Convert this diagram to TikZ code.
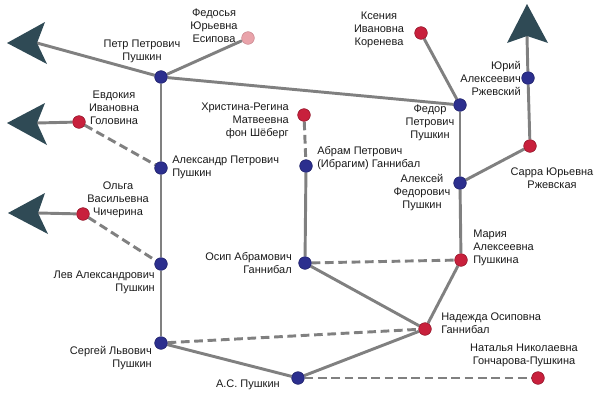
\documentclass[tikz,border=0pt]{standalone}
\usepackage{fontspec}
\setmainfont{Liberation Sans}
\usetikzlibrary{backgrounds}
\definecolor{blueN}{HTML}{2C2F8E}
\definecolor{blueD}{HTML}{1E2066}
\definecolor{redN}{HTML}{C8203C}
\definecolor{redD}{HTML}{8E1428}
\definecolor{pinkN}{HTML}{E9A3AA}
\definecolor{pinkD}{HTML}{C98890}
\definecolor{lineG}{HTML}{808080}
\definecolor{arrowC}{HTML}{2F4A55}
\definecolor{textC}{HTML}{1A1A1A}
\begin{document}
\begin{tikzpicture}[x=0.75pt,y=-0.75pt,
  person/.style={circle,inner sep=0pt,minimum size=9.5pt,line width=0.4pt},
  male/.style={person,fill=blueN,draw=blueD},
  female/.style={person,fill=redN,draw=redD},
  palefemale/.style={person,fill=pinkN,draw=pinkD},
  lbl/.style={inner sep=0pt,font=\fontsize{8.25pt}{9.75pt}\selectfont,text=textC},
  tie/.style={draw=lineG,line width=2.2pt},
  marr/.style={tie,dash pattern=on 6.5pt off 3.5pt},
  arrowhead/.style={fill=arrowC,draw=none}]
\useasboundingbox (0,0) rectangle (600,400);

% people
\node[male] (petr) at (161,77) {};
\node[palefemale] (fedosya) at (248,38) {};
\node[female] (evdokiya) at (79,122) {};
\node[male] (aleksandr) at (161,168) {};
\node[female] (olga) at (83,214) {};
\node[male] (lev) at (161,264) {};
\node[male] (sergey) at (161,343) {};
\node[male] (as) at (298,378) {};
\node[female] (hristina) at (304,115) {};
\node[male] (abram) at (306,166) {};
\node[male] (osip) at (305,263) {};
\node[female] (kseniya) at (421,33) {};
\node[male] (fedor) at (460,105) {};
\node[male] (yuriy) at (528,78) {};
\node[female] (sarra) at (530,146) {};
\node[male] (aleksey) at (460,183) {};
\node[female] (mariya) at (461,260) {};
\node[female] (nadezhda) at (425,329) {};
\node[female] (natalya) at (538,378) {};

% arrow heads (continuation of lines)
\coordinate (n1) at (37,43);
\coordinate (n2) at (37,123);
\coordinate (n3) at (38,213);
\coordinate (n4) at (527,36);

\begin{scope}[on background layer]
  \draw[tie] (petr) -- (n1);
  \draw[tie] (petr) -- (fedosya);
  \draw[tie] (petr) -- (fedor);
  \draw[tie] (petr) -- (aleksandr);
  \draw[tie] (aleksandr) -- (lev);
  \draw[tie] (lev) -- (sergey);
  \draw[tie] (sergey) -- (as);
  \draw[tie] (as) -- (nadezhda);
  \draw[tie] (osip) -- (nadezhda);
  \draw[tie] (nadezhda) -- (mariya);
  \draw[tie] (mariya) -- (aleksey);
  \draw[tie] (aleksey) -- (fedor);
  \draw[tie] (fedor) -- (kseniya);
  \draw[tie] (aleksey) -- (sarra);
  \draw[tie] (sarra) -- (yuriy);
  \draw[tie] (yuriy) -- (n4);
  \draw[tie] (abram) -- (osip);
  \draw[tie] (evdokiya) -- (n2);
  \draw[tie] (olga) -- (n3);
  \draw[marr] (evdokiya) -- (aleksandr);
  \draw[marr] (olga) -- (lev);
  \draw[marr] (hristina) -- (abram);
  \draw[marr] (osip) -- (mariya);
  \draw[marr] (sergey) -- (nadezhda);
  \draw[marr] (as) -- (natalya);
  \fill[arrowhead] (7,43) -- (45,22) -- (n1) -- (47,64) -- cycle;
  \fill[arrowhead] (7,123) -- (45,103) -- (n2) -- (47,145) -- cycle;
  \fill[arrowhead] (8,213) -- (45,193) -- (n3) -- (48,234) -- cycle;
  \fill[arrowhead] (527,4) -- (548,43) -- (n4) -- (507,43) -- cycle;
\end{scope}

% labels
\node[lbl,align=center] (lpetr) at (142,51.5) {Петр Петрович\\Пушкин};
\node[lbl,align=center] (lfedosya) at (214,25.5) {Федосья\\Юрьевна\\Есипова};
\node[lbl,align=center] (levdokiya) at (114,107.5) {Евдокия\\Ивановна\\Головина};
\node[lbl,align=left,anchor=west] (laleksandr) at (172,167.5) {Александр Петрович\\Пушкин};
\node[lbl,align=center] (lolga) at (118,200) {Ольга\\Васильевна\\Чичерина};
\node[lbl,align=right,anchor=east] (llev) at (155,282) {Лев Александрович\\Пушкин};
\node[lbl,align=right,anchor=east] (lsergey) at (152,358) {Сергей Львович\\Пушкин};
\node[lbl,anchor=east] (las) at (280,385) {А.С. Пушкин};
\node[lbl,align=right,anchor=east] (lhristina) at (289,120.5) {Христина-Регина\\Матвеевна\\фон Шёберг};
\node[lbl,align=left,anchor=west] (labram) at (317,158) {Абрам Петрович\\(Ибрагим) Ганнибал};
\node[lbl,align=right,anchor=east] (losip) at (292,263) {Осип Абрамович\\Ганнибал};
\node[lbl,align=center] (lkseniya) at (379,30) {Ксения\\Ивановна\\Коренева};
\node[lbl,align=center] (lfedor) at (430,123) {Федор\\Петрович\\Пушкин};
\node[lbl,align=right,anchor=east] (lyuriy) at (521,78.5) {Юрий\\Алексеевич\\Ржевский};
\node[lbl,align=center] (lsarra) at (552,178) {Сарра Юрьевна\\Ржевская};
\node[lbl,align=center] (laleksey) at (422,192.5) {Алексей\\Федорович\\Пушкин};
\node[lbl,align=left,anchor=west] (lmariya) at (473,248) {Мария\\Алексеевна\\Пушкина};
\node[lbl,align=left,anchor=west] (lnadezhda) at (441,323.5) {Надежда Осиповна\\Ганнибал};
\node[lbl,align=center] (lnatalya) at (524,355) {Наталья Николаевна\\Гончарова-Пушкина};
\end{tikzpicture}
\end{document}
